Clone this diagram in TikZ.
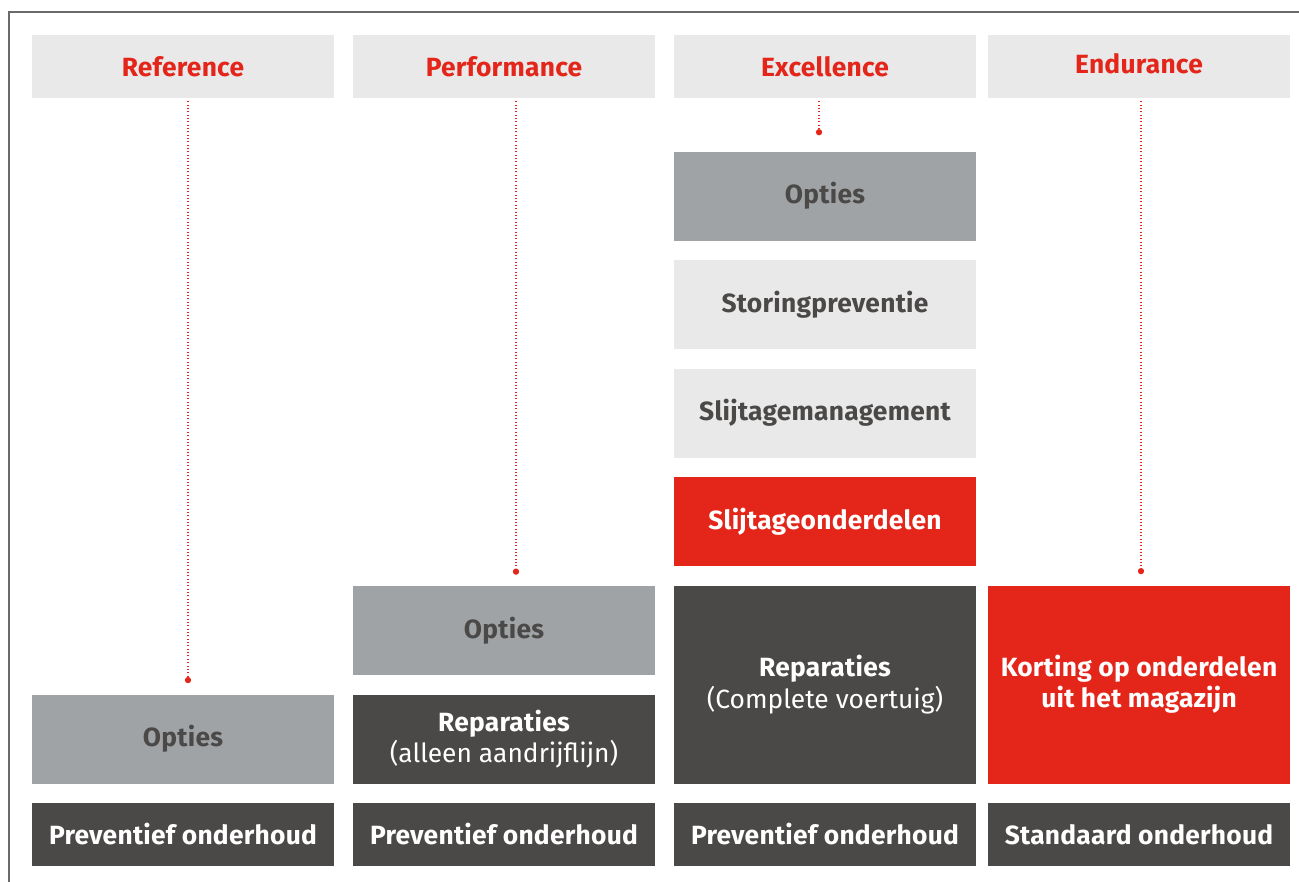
\documentclass[tikz,border=0pt]{standalone}
\usepackage{fontspec}
\setmainfont{Fira Sans}[BoldFeatures={LetterSpace=1}]
\usetikzlibrary{positioning,arrows.meta}

\definecolor{lightgr}{HTML}{E9E9E9}
\definecolor{midgr}{HTML}{A0A3A5}
\definecolor{darkgr}{HTML}{4A4947}
\definecolor{brandred}{HTML}{E3251A}
\definecolor{framegr}{HTML}{6A6A6A}

\begin{document}
\begin{tikzpicture}[x=0.02cm, y=-0.02cm, node distance=0.376cm,
        box/.style={minimum width=6.04cm, minimum height=1.78cm, inner sep=0pt,
            align=center, font=\fontsize{15}{17.8}\selectfont\bfseries},
        head/.style={box, fill=lightgr, text=brandred, minimum height=1.26cm},
        base/.style={box, fill=darkgr, text=white, minimum height=1.26cm},
        opt/.style={box, fill=midgr, text=darkgr},
        soft/.style={box, fill=lightgr, text=darkgr},
        dark/.style={box, fill=darkgr, text=white},
        hot/.style={box, fill=brandred, text=white},
        tall/.style={minimum height=3.96cm},
        dots/.style={brandred, line width=0.9pt, dash pattern=on 0.5pt off 1.4pt,
            shorten <=0.06cm, -{Circle[length=3.5pt]}}]
        \useasboundingbox (0,0) rectangle (1299,882);
        \draw[framegr, line width=0.03cm] (9,882) -- (9,12) -- (1299,12);

        % headers
        \node[head] (refhead) at (183,66.5) {Reference};
        \node[head] (perfhead) at (504,66.5) {Performance};
        \node[head] (exchead) at (825,66.5) {Excellence};
        \node[head] (endhead) at (1139,66.5) {\raisebox{0.1cm}{Endurance}};

        % Reference
        \node[base] (refbase) at (183,834.5) {Preventief onderhoud};
        \node[opt] (refopt) [above=of refbase] {Opties};

        % Performance
        \node[base] (perfbase) at (504,834.5) {Preventief onderhoud};
        \node[dark] (perfrep) [above=of perfbase] {Reparaties\\{\mdseries(alleen aandrijflijn)}};
        \node[opt] (perfopt) [above=of perfrep] {Opties};

        % Excellence
        \node[base] (excbase) at (825,834.5) {Preventief onderhoud};
        \node[dark, tall] (excrep) [above=of excbase] {Reparaties\\{\mdseries(Complete voertuig)}};
        \node[hot] (excparts) [above=of excrep] {Slijtageonderdelen};
        \node[soft] (excwear) [above=of excparts] {Slijtagemanagement};
        \node[soft] (excprev) [above=of excwear] {Storingpreventie};
        \node[opt] (excopt) [above=of excprev] {Opties};

        % Endurance
        \node[base] (endbase) at (1139,834.5) {Standaard onderhoud};
        \node[hot, tall] (enddisc) [above=of endbase] {Korting op onderdelen\\uit het magazijn};

        % dotted leaders
        \coordinate[above=0.22cm of refopt, xshift=0.1cm] (refdot);
        \coordinate[above=0.22cm of perfopt, xshift=0.24cm] (perfdot);
        \coordinate[above=0.32cm of excopt, xshift=-0.12cm] (excdot);
        \coordinate[above=0.22cm of enddisc, xshift=0.04cm] (enddot);
        \draw[dots] (refhead.south -| refdot) -- (refdot);
        \draw[dots] (perfhead.south -| perfdot) -- (perfdot);
        \draw[dots] (exchead.south -| excdot) -- (excdot);
        \draw[dots] (endhead.south -| enddot) -- (enddot);
\end{tikzpicture}
\end{document}
